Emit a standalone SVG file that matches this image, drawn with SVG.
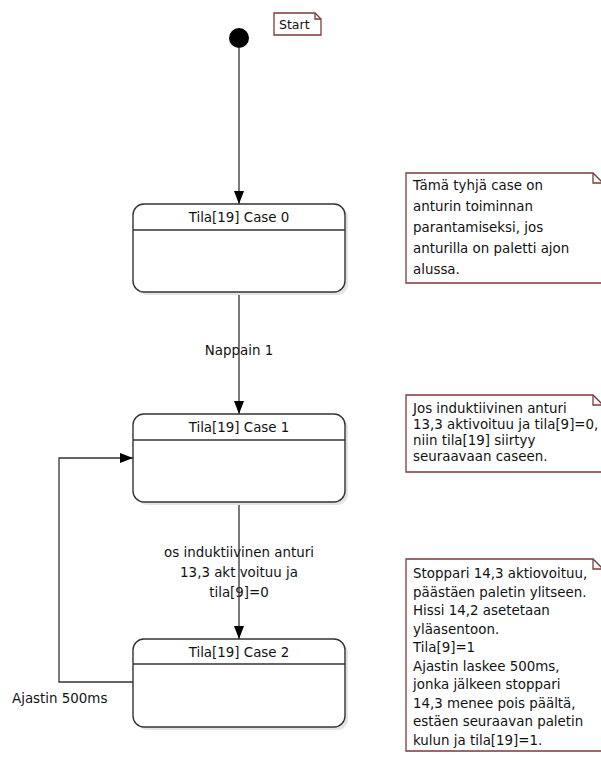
<svg xmlns="http://www.w3.org/2000/svg" width="601" height="771" viewBox="0 0 601 771">
  <style>
    text { font-family: "DejaVu Sans", "Liberation Sans", sans-serif; font-size: 13.4px; fill: #111; }
    .title { text-anchor: middle; }
    .state { fill: #fff; stroke: #333; stroke-width: 1.4; }
    .shadow { fill: #e4e4e4; }
    .divider { stroke: #333; stroke-width: 1.4; }
    .note { fill: #fff; stroke: #7a3a3a; stroke-width: 1.3; }
    .fold { fill: none; stroke: #7a3a3a; stroke-width: 1.3; }
    .edge { fill: none; stroke: #333; stroke-width: 1.3; }
  </style>
  <defs>
    <marker id="arrow" viewBox="0 0 13 10" refX="13" refY="5" markerWidth="13" markerHeight="10" markerUnits="userSpaceOnUse" orient="auto">
      <path d="M0,0 L13,5 L0,10 Z" fill="#000"/>
    </marker>
  </defs>
  <rect width="601" height="771" fill="#fff"/>

  <!-- transition labels (lines are drawn on top of them) -->
  <g id="labels">
    <text class="title" x="239" y="355">Nappain 1</text>
    <text class="title" x="239" y="557">os induktiivinen anturi</text>
    <text class="title" x="239" y="577">13,3 akt voituu ja</text>
    <text class="title" x="239" y="597">tila[9]=0</text>
    <text x="12" y="703">Ajastin 500ms</text>
  </g>

  <!-- transitions -->
  <g id="connectors">
    <path class="edge" d="M239,48 L239,204" marker-end="url(#arrow)"/>
    <path class="edge" d="M239,292 L239,414" marker-end="url(#arrow)"/>
    <path class="edge" d="M239,502 L239,639" marker-end="url(#arrow)"/>
    <path class="edge" d="M133,682 L59,682 L59,458 L133,458" marker-end="url(#arrow)"/>
  </g>

  <!-- initial pseudo-state -->
  <g id="initial">
    <circle cx="239" cy="38" r="10" fill="#000"/>
  </g>

  <g id="note-start">
    <path class="note" d="M274,13 L315,13 L321,19 L321,35 L274,35 Z"/>
    <path class="fold" d="M315,13 L315,19 L321,19"/>
    <text x="279" y="29" style="font-size:12.5px">Start</text>
  </g>

  <g id="case0">
    <rect class="shadow" x="136" y="207" width="212" height="88" rx="11"/>
    <rect class="state" x="133" y="204" width="212" height="88" rx="11"/>
    <line class="divider" x1="133" y1="230" x2="345" y2="230"/>
    <text class="title" x="239" y="222">Tila[19] Case 0</text>
  </g>

  <g id="case1">
    <rect class="shadow" x="136" y="417" width="212" height="88" rx="11"/>
    <rect class="state" x="133" y="414" width="212" height="88" rx="11"/>
    <line class="divider" x1="133" y1="440" x2="345" y2="440"/>
    <text class="title" x="239" y="432">Tila[19] Case 1</text>
  </g>

  <g id="case2">
    <rect class="shadow" x="136" y="642" width="212" height="88" rx="11"/>
    <rect class="state" x="133" y="639" width="212" height="88" rx="11"/>
    <line class="divider" x1="133" y1="664" x2="345" y2="664"/>
    <text class="title" x="239" y="657">Tila[19] Case 2</text>
  </g>

  <g id="note-case0">
    <path class="note" d="M406,173 L593,173 L603,183 L603,283 L406,283 Z"/>
    <path class="fold" d="M593,173 L593,183 L603,183"/>
    <text x="413" y="190">Tämä tyhjä case on</text>
    <text x="413" y="211">anturin toiminnan</text>
    <text x="413" y="232">parantamiseksi, jos</text>
    <text x="413" y="253">anturilla on paletti ajon</text>
    <text x="413" y="274">alussa.</text>
  </g>

  <g id="note-case1">
    <path class="note" d="M406,395 L593,395 L603,405 L603,472 L406,472 Z"/>
    <path class="fold" d="M593,395 L593,405 L603,405"/>
    <text x="413" y="413">Jos induktiivinen anturi</text>
    <text x="413" y="429">13,3 aktivoituu ja tila[9]=0,</text>
    <text x="413" y="445">niin tila[19] siirtyy</text>
    <text x="413" y="461">seuraavaan caseen.</text>
  </g>

  <g id="note-case2">
    <path class="note" d="M406,559 L593,559 L603,569 L603,751 L406,751 Z"/>
    <path class="fold" d="M593,559 L593,569 L603,569"/>
    <text x="413" y="578">Stoppari 14,3 aktiovoituu,</text>
    <text x="413" y="596.5">päästäen paletin ylitseen.</text>
    <text x="413" y="615">Hissi 14,2 asetetaan</text>
    <text x="413" y="633.5">yläasentoon.</text>
    <text x="413" y="652">Tila[9]=1</text>
    <text x="413" y="670.5">Ajastin laskee 500ms,</text>
    <text x="413" y="689">jonka jälkeen stoppari</text>
    <text x="413" y="707.5">14,3 menee pois päältä,</text>
    <text x="413" y="726">estäen seuraavan paletin</text>
    <text x="413" y="744.5">kulun ja tila[19]=1.</text>
  </g>
</svg>
